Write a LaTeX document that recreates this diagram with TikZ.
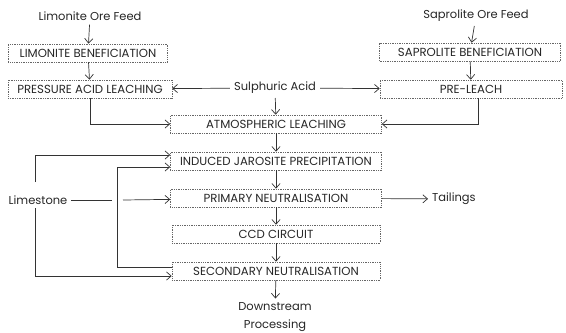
\documentclass[tikz,border=0pt]{standalone}
\usepackage{fontspec}
\setmainfont{Poppins}
\usetikzlibrary{arrows.meta,positioning}

\tikzset{
    procbox/.style={draw=black!60, densely dotted, line width=0.5pt, minimum height=0.54cm,
                    inner sep=1pt, font=\fontsize{10}{11}\selectfont, text=black!85},
    feedtext/.style={font=\fontsize{9.8}{11}\selectfont, text=black!85},
    flow/.style={-{Straight Barb[length=4pt,width=7pt]}, black!80, line width=0.6pt},
    plain/.style={black!80, line width=0.6pt}
}

\begin{document}
\begin{tikzpicture}[x=0.03cm,y=-0.03cm]
                \useasboundingbox (0,0) rectangle (566,332);

                % ore feeds
                \node[feedtext] (limfeed) at (90,16) {Limonite Ore Feed};
                \node[feedtext] (sapfeed) at (476,16) {Saprolite Ore Feed};
                \node[feedtext] (acid) at (275,88) {Sulphuric Acid};
                \node[feedtext] (lime) at (38,200) {Limestone};
                \node[feedtext, anchor=west] (tail) at (428,199) {Tailings};
                \node[feedtext, align=center] (down) at (275,317)
                    {Downstream\\[4pt]Processing};

                % process boxes
                \node[procbox, minimum width=4.77cm] (limben) at (88,53) {LIMONITE BENEFICIATION};
                \node[procbox, minimum width=4.92cm] (pal) at (90,89) {PRESSURE ACID LEACHING};
                \node[procbox, minimum width=5.43cm] (sapben) at (470,52) {SAPROLITE BENEFICIATION};
                \node[procbox, minimum width=5.46cm] (preleach) at (471,89) {PRE-LEACH};
                \node[procbox, minimum width=6.33cm] (atm) at (276,124) {ATMOSPHERIC LEACHING};
                \node[procbox, minimum width=6.33cm] (ijp) at (276,161) {INDUCED JAROSITE PRECIPITATION};
                \node[procbox, minimum width=6.33cm] (pn) at (276,198) {PRIMARY NEUTRALISATION};
                \node[procbox, minimum width=6.24cm] (ccd) at (276,234) {CCD CIRCUIT};
                \node[procbox, minimum width=6.24cm] (sn) at (276,271) {SECONDARY NEUTRALISATION};

                % bend points
                \coordinate (limetop) at (35,182);
                \coordinate (limebot) at (35,208);
                \coordinate (jumpa) at (112,200);
                \coordinate (jumpb) at (123,200);
                \coordinate (recbot) at (117,267);
                \coordinate (rectop) at (117,167);

                % main flow
                \draw[flow] (limfeed) -- (limben);
                \draw[flow] (limben) -- (pal);
                \draw[flow] (sapfeed) -- (sapben);
                \draw[flow] (sapben) -- (preleach);
                \draw[flow] (acid) -- (pal);
                \draw[flow] (acid) -- (preleach);
                \draw[flow] (acid) -- (atm);
                \draw[flow] (pal) |- (atm);
                \draw[flow] ([xshift=0.21cm]preleach.south) |- (atm);
                \draw[flow] (atm) -- (ijp);
                \draw[flow] (ijp) -- (pn);
                \draw[flow] (pn) -- (ccd);
                \draw[flow] (ccd) -- (sn);
                \draw[flow] (sn) -- (down);
                \draw[flow] (pn) -- (tail);

                % limestone addition
                \draw[flow] (limetop) |- ([yshift=0.18cm]ijp.west);
                \draw[flow] (limebot) |- ([yshift=-0.15cm]sn.west);
                \draw[plain] (lime.east) -- (jumpa);
                \draw[flow] (jumpb) -- (pn);

                % recycle
                \draw[flow] ([yshift=0.12cm]sn.west) -- (recbot) -- (rectop) -- ([yshift=-0.18cm]ijp.west);
\end{tikzpicture}
\end{document}
